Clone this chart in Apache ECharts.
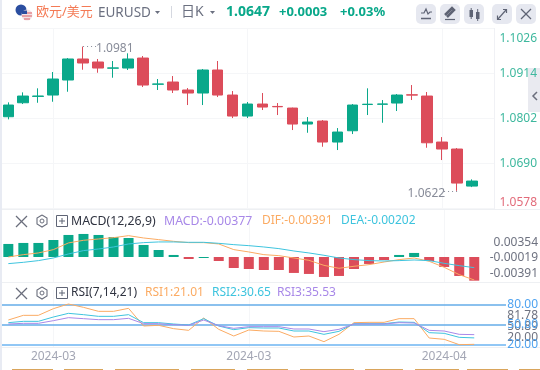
<!DOCTYPE html>
<html>
<head>
<meta charset="utf-8">
<style>
  html, body { margin: 0; padding: 0; background: #fff; }
  #chart { width: 540px; height: 370px; }
</style>
<script src="https://cdn.jsdelivr.net/npm/echarts@6/dist/echarts.min.js"></script>
</head>
<body>
<div id="chart"></div>
<script>
const FONT = '"Noto Sans", "Noto Sans CJK SC", sans-serif';
const GREEN = "#09a88a";
const RED = "#dc4c5a";
const ORANGE = "#fbab63";
const CYAN = "#3ec4de";
const PURPLE = "#a888e8";
const BLUE = "#64ace9";

const categories = [
  "2024-03-01", "2024-03-04", "2024-03-05", "2024-03-06", "2024-03-07", "2024-03-08", "2024-03-11", "2024-03-12",
  "2024-03-13", "2024-03-14", "2024-03-15", "2024-03-18", "2024-03-19", "2024-03-20", "2024-03-21", "2024-03-22",
  "2024-03-25", "2024-03-26", "2024-03-27", "2024-03-28", "2024-03-29", "2024-04-01", "2024-04-02", "2024-04-03",
  "2024-04-04", "2024-04-05", "2024-04-08", "2024-04-09", "2024-04-10", "2024-04-11", "2024-04-12", "2024-04-15",
  "",
];
const dateLabelIndexes = [3, 16, 29];

// open, close, low, high
const candles = [
  [1.08064, 1.08355, 1.07999, 1.08422], [1.08412, 1.08579, 1.0838, 1.08671], [1.0857, 1.0858, 1.08412, 1.08771],
  [1.08604, 1.09003, 1.08437, 1.09177], [1.08978, 1.09501, 1.08686, 1.09525], [1.09501, 1.09401, 1.09234, 1.0981],
  [1.09426, 1.09276, 1.09159, 1.09501], [1.09272, 1.0928, 1.09035, 1.09451], [1.09276, 1.09501, 1.09227, 1.09642],
  [1.09525, 1.08853, 1.08803, 1.09575], [1.08872, 1.0888, 1.08729, 1.09003], [1.08928, 1.08729, 1.08654, 1.09077],
  [1.08729, 1.08654, 1.08355, 1.08778], [1.08654, 1.09227, 1.08355, 1.09252], [1.09227, 1.08604, 1.08554, 1.09451],
  [1.08604, 1.08081, 1.08031, 1.08704], [1.08081, 1.0838, 1.08031, 1.0843], [1.0838, 1.08305, 1.08231, 1.08654],
  [1.0832, 1.08312, 1.08106, 1.08405], [1.0828, 1.07882, 1.07733, 1.0829], [1.07882, 1.07932, 1.07665, 1.08056],
  [1.07957, 1.07434, 1.07317, 1.07982], [1.07434, 1.07683, 1.07235, 1.07782], [1.07715, 1.08355, 1.07633, 1.0838],
  [1.08368, 1.08376, 1.08106, 1.08771], [1.08374, 1.08382, 1.07914, 1.0848], [1.08405, 1.08604, 1.08206, 1.08629],
  [1.0861, 1.08602, 1.0848, 1.08853], [1.08579, 1.07416, 1.07292, 1.08679], [1.07434, 1.0726, 1.06986, 1.07558],
  [1.0726, 1.06413, 1.0622, 1.07285], [1.06338, 1.06463, 1.06313, 1.06505],
];
const priceTicks = [1.0578, 1.069, 1.0802, 1.0914, 1.1026];
const highMark = 1.0981;
const lowMark = 1.0622;

const macdBars = [
  0.00207, 0.00223, 0.00223, 0.0027, 0.0035, 0.00366, 0.0035, 0.00318, 0.00302, 0.00191, 0.00111, 0.00032,
  -0.00032, -0.00016, -0.00064, -0.00175, -0.00191, -0.00207, -0.00207, -0.00254, -0.0027, -0.00318, -0.00302,
  -0.00191, -0.00111, -0.00048, 0.00032, 0.00064, -0.00064, -0.00159, -0.00302, -0.00377,
];
const macdGreenBelowZero = [13];
const dif = [
  0, 0.00037, 0.00064, 0.00117, 0.00223, 0.00265, 0.00286, 0.00307, 0.00339, 0.00302, 0.00276, 0.00249, 0.00228,
  0.00228, 0.00207, 0.00117, 0.0008, 0.00037, 0.00021, -0.00016, -0.00053, -0.00133, -0.0018, -0.00148, -0.00122,
  -0.0008, -0.00042, -0.00016, -0.00069, -0.00164, -0.00281, -0.00366,
];
const dea = [
  -0.00106, -0.00085, -0.00058, -0.00016, 0.00048, 0.00101, 0.00127, 0.00159, 0.00207, 0.00228, 0.00239, 0.00239,
  0.00233, 0.00233, 0.00217, 0.00196, 0.0018, 0.00159, 0.00133, 0.00095, 0.00064, 0.00027, -0.00016, -0.00042,
  -0.00058, -0.00064, -0.00058, -0.00048, -0.00058, -0.00101, -0.00138, -0.0017,
];
const macdTickLabels = ["0.00354", "-0.00019", "-0.00391"];

const rsi1 = [
  57.5, 64.5, 64.5, 74.5, 81.5, 76.5, 70.5, 70.5, 75, 48.5, 49.5, 44.5, 42, 60.5, 43.5, 33.5, 42.5, 41, 40.5, 32,
  33.5, 25, 36, 53.5, 54, 54, 59.5, 59.5, 30.5, 28.5, 20.5, 21.01,
];
const rsi2 = [
  53.5, 55.5, 55.5, 62, 67.5, 65.5, 63, 63, 65.5, 53.5, 53.5, 51.5, 50, 59.5, 48.5, 43, 46, 45.5, 45.5, 41, 41, 36,
  40.5, 52, 52, 52, 54.5, 54, 38.5, 37.5, 31.5, 30.65,
];
const rsi3 = [
  51.5, 52.5, 52.5, 56.5, 61, 59.5, 58, 58, 60, 52, 52, 50.5, 49.5, 57.5, 49, 45, 47.5, 47.5, 47.5, 44, 44, 40, 43.5,
  51.5, 51.5, 51.5, 53.5, 53, 42, 41, 36, 35.53,
];
const rsiLevels = [80, 50, 20];
const rsiGrayLabels = ["81.78", "50.89", "20.00"];

const bottomStrip = [[12, 41], [64, 39], [115, 64], [191, 44], [247, 41], [300, 54], [365, 38], [415, 44], [467, 41], [519, 21]];

const txt = (x, y, text, fill, size, extra) => ({
  type: "text", x, y, silent: true, z: 20,
  style: Object.assign({ text, fill, font: `${size}px ${FONT}`, textVerticalAlign: "middle", textAlign: "left" }, extra),
});
const line = (x1, y1, x2, y2, stroke, w) => ({
  type: "line", silent: true, z: 20, shape: { x1, y1, x2, y2 }, style: { stroke, lineWidth: w || 1 },
});
const poly = (points, stroke, w) => ({
  type: "polyline", silent: true, z: 21, shape: { points }, style: { stroke, lineWidth: w || 1.5, fill: null },
});
const box = (x, y, width, height, fill, r) => ({
  type: "rect", silent: true, z: 20, shape: { x, y, width, height, r: r || 0 }, style: { fill },
});
const ring = (cx, cy, r, fill, stroke) => ({
  type: "circle", silent: true, z: 20, shape: { cx, cy, r }, style: { fill, stroke: stroke || null, lineWidth: 1 },
});

const ICON = "#5f6475";
const panelIcons = (y, x0) => [
  poly([[x0, y - 5], [x0 + 11, y + 6]], "#6a6e7c", 1.2),
  poly([[x0 + 11, y - 5], [x0, y + 6]], "#6a6e7c", 1.2),
  poly([[x0 + 26, y - 6], [x0 + 31, y - 3], [x0 + 31, y + 3], [x0 + 26, y + 6], [x0 + 21, y + 3], [x0 + 21, y - 3], [x0 + 26, y - 6]], "#6a6e7c", 1.1),
  ring(x0 + 26, y, 2, null, "#6a6e7c"),
  { type: "rect", silent: true, z: 20, shape: { x: x0 + 40.5, y: y - 5.5, width: 11, height: 11 }, style: { fill: null, stroke: "#5f6475", lineWidth: 1 } },
  line(x0 + 43, y, x0 + 49, y, "#5f6475"),
  line(x0 + 46, y - 3, x0 + 46, y + 3, "#5f6475"),
];

const graphicElements = [
  box(0, 0, 2, 370, "#e8ebf3"),
  line(2, 209.5, 540, 209.5, "#eef0f3"),
  line(2, 282.5, 540, 282.5, "#eef0f3"),
  line(2, 347.5, 540, 347.5, "#eef0f3"),
  Object.assign(box(528, 68, 12, 44, "#e9eaf0"), { z: -1 }),
  poly([[537, 92], [533, 96], [537, 100]], "#6a6e7c", 1.5),

  // flags
  ring(21, 10, 5.5, "#2b4ea0"),
  ring(27, 15, 5.5, "#f3e3e5"),
  line(23, 13, 32, 13, "#e0747c", 1.2),
  line(22, 16, 32, 16, "#e0747c", 1.2),
  line(24, 19, 30, 19, "#e0747c", 1.2),
  box(22, 10.5, 5, 3.5, "#2b4ea0"),

  // header
  txt(36, 12, "欧元/美元", "#f47a55", 13),
  txt(98, 13, "EURUSD", "#6b7080", 13.5),
  { type: "polygon", silent: true, z: 20, shape: { points: [[155, 11], [160, 11], [157.5, 14]] }, style: { fill: "#6b7080" } },
  line(171.5, 6, 171.5, 18, "#d5d8e0"),
  txt(181, 12, "日K", "#6b7080", 14),
  { type: "polygon", silent: true, z: 20, shape: { points: [[210, 11], [215, 11], [212.5, 14]] }, style: { fill: "#6b7080" } },
  txt(226, 12, "1.0647", GREEN, 14, { font: `bold 14px ${FONT}` }),
  txt(279, 12, "+0.0003", GREEN, 13, { font: `bold 13px ${FONT}` }),
  txt(340, 12, "+0.03%", GREEN, 13, { font: `bold 13px ${FONT}` }),

  // toolbar buttons
  box(416, 4, 20, 20, "#e6e8f0", 5),
  box(440, 4, 20, 20, "#e6e8f0", 5),
  box(464, 4, 20, 20, "#e6e8f0", 5),
  box(492, 4, 20, 20, "#e6e8f0", 5),
  box(516, 4, 20, 20, "#e6e8f0", 5),
  poly([[421, 13], [424, 13], [426, 9], [428, 14], [430, 12], [432, 12]], ICON, 1.2),
  line(421, 18.5, 431, 18.5, ICON, 1.5),
  poly([[445, 15], [452, 8], [454, 10], [447, 17]], ICON, 2.5),
  line(445, 19.5, 455, 19.5, ICON, 1.2),
  box(469.5, 10, 3.5, 7, ICON),
  line(471.2, 8, 471.2, 19, ICON),
  box(476, 12, 3.5, 7, ICON),
  line(477.7, 9, 477.7, 21, ICON),
  poly([[498, 19], [506, 10]], ICON, 1.2),
  poly([[503, 9.5], [506.5, 9.5], [506.5, 13]], ICON, 1.2),
  poly([[497.5, 15.5], [497.5, 19.5], [501, 19.5]], ICON, 1.2),
  poly([[521, 9], [531, 19]], ICON, 1.3),
  poly([[531, 9], [521, 19]], ICON, 1.3),

  // MACD header
  ...panelIcons(221, 16),
  txt(71, 221, "MACD(12,26,9)", "#2f3340", 12.3),
  txt(164, 221, "MACD:-0.00377", PURPLE, 12.3),
  txt(262, 221, "DIF:-0.00391", ORANGE, 12),
  txt(341, 221, "DEA:-0.00202", CYAN, 12),

  // RSI header
  ...panelIcons(293, 16),
  txt(71, 293, "RSI(7,14,21)", "#2f3340", 12),
  txt(145, 293, "RSI1:21.01", ORANGE, 12),
  txt(212, 293, "RSI2:30.65", CYAN, 12),
  txt(277, 293, "RSI3:35.53", PURPLE, 12),

  // MACD and RSI tick labels
  ...macdTickLabels.map((t, i) => txt(538, [243, 258, 273.5][i], t, "#6e7280", 12, { textAlign: "right" })),
  ...rsiGrayLabels.map((t, i) => txt(538, [315.5, 326.5, 337.5][i], t, "#6e7280", 12, { textAlign: "right" })),
  ...rsiLevels.map((v, i) => txt(538, [305, 325, 345][i], v.toFixed(2), "#4fa3f0", 12, { textAlign: "right" })),
  Object.assign(box(505, 348, 35, 5, "#fff"), { z: 25 }),

  ...bottomStrip.map(([x, w]) => box(x, 369, w, 1, "#d9a55b")),
];

const xBase = {
  type: "category",
  data: categories,
  axisTick: { show: false },
  axisLine: { show: false },
  axisLabel: { show: false },
  splitLine: {
    show: true,
    alignWithLabel: true,
    interval: (i) => dateLabelIndexes.includes(i),
    lineStyle: { color: "#f5f6f8" },
  },
};

const hiddenY = (gridIndex, min, max) => ({
  type: "value", gridIndex, min, max, position: "right",
  axisLine: { show: false }, axisTick: { show: false }, axisLabel: { show: false }, splitLine: { show: false },
});

const extremeLine = (fromIdx, toIdx, value, offset) => [
  { coord: [fromIdx, value], label: { formatter: value.toFixed(4), offset } },
  { coord: [toIdx, value] },
];

const option = {
  animation: false,
  textStyle: { fontFamily: FONT },
  graphic: { elements: graphicElements },
  grid: [
    { left: 0.8, right: 43.2, top: 28.5, height: 180 },
    { left: 0.8, right: 43.2, top: 210, height: 72 },
    { left: 0.8, right: 43.2, top: 290, height: 57 },
    { left: 2, right: 34, top: 290, height: 57 },
  ],
  xAxis: [
    { ...xBase, gridIndex: 0 },
    { ...xBase, gridIndex: 1 },
    {
      ...xBase,
      gridIndex: 2,
      axisLabel: {
        show: true,
        interval: (i) => dateLabelIndexes.includes(i),
        formatter: (v) => v.slice(0, 7),
        color: "#a3a6b4",
        fontSize: 12,
        margin: 4,
        fontFamily: FONT,
      },
    },
    { type: "value", gridIndex: 3, min: 0, max: 1, show: false },
  ],
  yAxis: [
    {
      type: "value",
      gridIndex: 0,
      position: "right",
      min: priceTicks[0],
      max: priceTicks[4],
      interval: 0.0112,
      axisTick: { show: false },
      axisLine: { show: true, lineStyle: { color: "#f0f1f5" } },
      splitLine: { lineStyle: { color: "#f5f6f8" } },
      axisLabel: {
        margin: 5,
        fontSize: 12,
        fontFamily: FONT,
        padding: [4, 0, 0, 0],
        verticalAlignMinLabel: "bottom",
        verticalAlignMaxLabel: "top",
        formatter: (v) => v.toFixed(4),
        color: (v) => (v < 1.06 ? "#e26b7a" : "#3eb89e"),
      },
    },
    hiddenY(1, -0.00398, 0.00747),
    hiddenY(2, 17, 102.5),
    hiddenY(3, 17, 102.5),
  ],
  series: [
    {
      type: "candlestick",
      xAxisIndex: 0,
      yAxisIndex: 0,
      data: candles,
      barWidth: 11,
      itemStyle: { color: GREEN, color0: RED, borderColor: GREEN, borderColor0: RED, borderWidth: 1 },
      markLine: {
        silent: true,
        symbol: "none",
        animation: false,
        lineStyle: { color: "#888c99", type: [1, 3], width: 1 },
        label: {
          show: true,
          position: "end",
          distance: 2,
          color: "#888c99",
          fontSize: 12,
          fontFamily: FONT,
        },
        data: [extremeLine(5, 6, highMark, [-4, 2]), extremeLine(30, 29, lowMark, [5, 3])],
      },
    },
    {
      type: "bar",
      xAxisIndex: 1,
      yAxisIndex: 1,
      data: macdBars,
      barWidth: 10,
      itemStyle: {
        color: (p) => (p.value > 0 || macdGreenBelowZero.includes(p.dataIndex) ? GREEN : RED),
      },
    },
    { type: "line", xAxisIndex: 1, yAxisIndex: 1, data: dif, symbol: "none", lineStyle: { color: ORANGE, width: 1 }, z: 5 },
    { type: "line", xAxisIndex: 1, yAxisIndex: 1, data: dea, symbol: "none", lineStyle: { color: CYAN, width: 1 }, z: 5 },
    ...rsiLevels.map((v, i) => ({
      type: "line",
      xAxisIndex: 3,
      yAxisIndex: 3,
      data: [[0, v], [1, v]],
      symbol: "none",
      lineStyle: { color: i === 2 ? "#91c7f5" : BLUE, width: i === 2 ? 2 : 1.5 },
      z: 1,
    })),
    { type: "line", xAxisIndex: 2, yAxisIndex: 2, data: rsi1, symbol: "none", lineStyle: { color: ORANGE, width: 1 }, z: 3 },
    { type: "line", xAxisIndex: 2, yAxisIndex: 2, data: rsi2, symbol: "none", lineStyle: { color: CYAN, width: 1 }, z: 3 },
    { type: "line", xAxisIndex: 2, yAxisIndex: 2, data: rsi3, symbol: "none", lineStyle: { color: PURPLE, width: 1 }, z: 3 },
  ],
};

const chart = echarts.init(document.getElementById("chart"));
chart.setOption(option);
</script>
</body>
</html>
